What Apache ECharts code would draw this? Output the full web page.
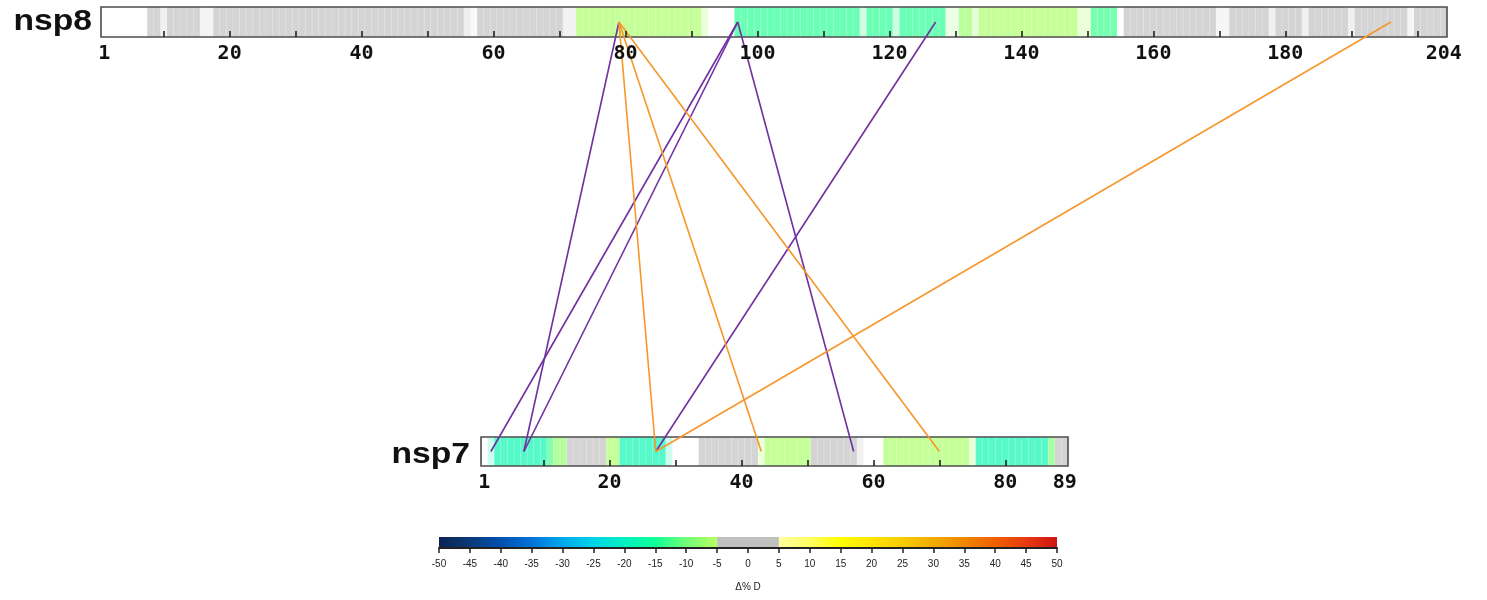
<!DOCTYPE html>
<html>
<head>
<meta charset="utf-8">
<title>nsp8 / nsp7 HDX map</title>
<script src="https://cdn.jsdelivr.net/npm/echarts@6/dist/echarts.min.js"></script>
<style>
  html, body { margin: 0; padding: 0; background: #fff; }
  #chart { width: 1487px; height: 600px; }
</style>
</head>
<body>
<div id="chart"></div>
<script>
// protein lengths (residues)
const NSP8_LENGTH = 204;
const NSP7_LENGTH = 89;

// covered stretches: [first residue, last residue, delta %D, coverage 0..1]
const NSP8_SEGMENTS = [
  [8, 9, 2, 1], [10, 10, 2, 0.35], [11, 15, 1, 1], [16, 17, 1, 0.25],
  [18, 55, 1, 1], [56, 56, 1, 0.4], [57, 57, 1, 0.15], [58, 70, 2, 1],
  [71, 72, 1, 0.3],
  [73, 91, -6, 1], [92, 92, -6, 0.35],
  [97, 115, -14, 1], [116, 116, -13, 0.35], [117, 120, -14, 1],
  [121, 121, -13, 0.35], [122, 128, -14, 1], [129, 130, -8, 0.25],
  [131, 132, -7, 1], [133, 133, -7, 0.4], [134, 148, -6, 1],
  [149, 150, -6, 0.35], [151, 154, -13, 1],
  [156, 169, 1, 1], [170, 171, 1, 0.2], [172, 177, 1, 1], [178, 178, 1, 0.35],
  [179, 182, 1, 1], [183, 183, 1, 0.35], [184, 189, 1, 1], [190, 190, 1, 0.35],
  [191, 198, 1, 1], [199, 199, 1, 0.2], [200, 204, 1, 1],
];
const NSP7_SEGMENTS = [
  [2, 2, -18, 0.3], [3, 10, -18, 1], [11, 11, -12, 1], [12, 13, -8, 1],
  [14, 19, 1, 1], [20, 21, -6, 1], [22, 28, -18, 1], [29, 29, -18, 0.3],
  [34, 42, 1, 1], [43, 43, -6, 0.35], [44, 50, -6, 1], [51, 57, 1, 1],
  [58, 58, 1, 0.3], [62, 74, -6, 1], [75, 75, -6, 0.35], [76, 86, -18, 1],
  [87, 87, -9, 1], [88, 89, 1, 1],
];

// axis ticks and labels
const NSP8_TICKS = [10, 20, 30, 40, 50, 60, 70, 80, 90, 100, 110, 120, 130, 140, 150, 160, 170, 180, 190, 200];
const NSP8_LABELS = [1, 20, 40, 60, 80, 100, 120, 140, 160, 180, 204];
const NSP7_TICKS = [10, 20, 30, 40, 50, 60, 70, 80];
const NSP7_LABELS = [1, 20, 40, 60, 80, 89];

// cross-links: [nsp8 residue, nsp7 residue]
const PURPLE_LINKS = [[79, 7], [97, 2], [97, 7], [97, 57], [127, 27]];
const ORANGE_LINKS = [[79, 27], [79, 43], [79, 70], [196, 27]];

// colour scale, evenly spaced: -50 .. -5 and 5 .. 50
const DECREASE_COLORS = ['#0b2352', '#0a3a78', '#0050b0', '#0074d8', '#00a8ee', '#00d4e8', '#00f0c0', '#10ff98', '#70ff78', '#b8ff60'];
const INCREASE_COLORS = ['#ffffa0', '#ffff60', '#ffff00', '#ffe400', '#f8cc00', '#f0ac00', '#f08600', '#f06000', '#e63a10', '#d01414'];
const NO_CHANGE_COLOR = '#c0c0c0';
const SCALE_BANDS = [[-50, -5, 'decrease'], [-5, 5, 'none'], [5, 50, 'increase']];

const CELL_OPACITY = 0.68;
const PURPLE = '#7030a0';
const ORANGE = '#f7962a';

function toResidues(segments) {
  const out = [];
  segments.forEach(([a, b, d, cov]) => {
    for (let r = a; r <= b; r++) out.push([r, d, cov]);
  });
  return out;
}

function colorFor(d) {
  if (d > -5 && d < 5) return NO_CHANGE_COLOR;
  if (d <= -5) return echarts.color.lerp((Math.max(d, -50) + 50) / 45, DECREASE_COLORS);
  return echarts.color.lerp((Math.min(d, 50) - 5) / 45, INCREASE_COLORS);
}

function gradient(colors) {
  return new echarts.graphic.LinearGradient(0, 0, 1, 0,
    colors.map((c, i) => ({ offset: i / (colors.length - 1), color: c })));
}

function renderCell(params, api) {
  const r = api.value(0);
  const p0 = api.coord([r - 0.5, 1]);
  const p1 = api.coord([r + 0.5, 0]);
  return {
    type: 'rect',
    shape: { x: p0[0], y: p0[1], width: p1[0] - p0[0], height: p1[1] - p0[1] },
    style: {
      fill: colorFor(api.value(1)),
      opacity: CELL_OPACITY * api.value(2),
      stroke: 'rgba(255,255,255,0.25)',
      lineWidth: 0.8,
    },
  };
}

function frameRenderer(len) {
  return function (params, api) {
    const p0 = api.coord([0.5, 1]);
    const p1 = api.coord([len + 0.5, 0]);
    return {
      type: 'rect',
      shape: { x: p0[0], y: p0[1], width: p1[0] - p0[0], height: p1[1] - p0[1] },
      style: { fill: 'none', stroke: '#4d4d4d', lineWidth: 1.6 },
    };
  };
}

function renderLink(params, api) {
  const a = chart.convertToPixel({ gridIndex: 0 }, [api.value(0), 0.5]);
  const b = chart.convertToPixel({ gridIndex: 1 }, [api.value(1), 0.5]);
  return {
    type: 'line',
    shape: { x1: a[0], y1: a[1], x2: b[0], y2: b[1] },
    style: { stroke: api.visual('color'), lineWidth: 1.6 },
  };
}

function renderBand(params, api) {
  const p0 = api.coord([api.value(0), 1]);
  const p1 = api.coord([api.value(1), 0]);
  const kind = SCALE_BANDS[params.dataIndex][2];
  const fill = kind === 'decrease' ? gradient(DECREASE_COLORS)
    : kind === 'increase' ? gradient(INCREASE_COLORS) : NO_CHANGE_COLOR;
  return {
    type: 'rect',
    shape: { x: p0[0], y: p0[1], width: p1[0] - p0[0], height: p1[1] - p0[1] },
    style: { fill: fill },
  };
}

const residueAxis = (grid, len, ticks, labels, margin) => ({
  type: 'value',
  gridIndex: grid,
  min: 0.5,
  max: len + 0.5,
  z: 10,
  axisLine: { show: false },
  splitLine: { show: false },
  axisTick: { inside: true, length: 6, customValues: ticks, lineStyle: { color: '#222', width: 1.6 } },
  axisLabel: {
    customValues: labels,
    margin: margin,
    fontFamily: 'DejaVu Sans Mono',
    fontWeight: 'bold',
    fontSize: 20,
    color: '#111',
  },
});

const hiddenY = (grid) => ({ type: 'value', gridIndex: grid, min: 0, max: 1, show: false });

const chart = echarts.init(document.getElementById('chart'), null, { renderer: 'canvas' });

chart.setOption({
  animation: false,
  backgroundColor: '#fff',
  grid: [
    { left: 101, top: 7, width: 1346, height: 30 },
    { left: 481, top: 437, width: 587, height: 29 },
    { left: 439, top: 537, width: 618, height: 11 },
  ],
  xAxis: [
    residueAxis(0, NSP8_LENGTH, NSP8_TICKS, NSP8_LABELS, 7),
    residueAxis(1, NSP7_LENGTH, NSP7_TICKS, NSP7_LABELS, 7),
    {
      type: 'value',
      gridIndex: 2,
      min: -50,
      max: 50,
      interval: 5,
      z: 10,
      splitLine: { show: false },
      axisLine: { lineStyle: { color: '#222', width: 2 } },
      axisTick: { length: 5, lineStyle: { color: '#222', width: 1.5 } },
      axisLabel: { margin: 11, fontSize: 10, color: '#222', fontFamily: 'Liberation Sans' },
      name: 'Δ% D',
      nameLocation: 'middle',
      nameGap: 34,
      nameTextStyle: { fontSize: 10, color: '#222', fontFamily: 'Liberation Sans' },
    },
  ],
  yAxis: [hiddenY(0), hiddenY(1), hiddenY(2)],
  graphic: [
    {
      type: 'text', x: 92, y: 22,
      style: { text: 'nsp8', font: 'bold 30px "Liberation Sans"', fill: '#111', align: 'right', verticalAlign: 'middle' },
      scaleX: 1.12,
    },
    {
      type: 'text', x: 470, y: 455,
      style: { text: 'nsp7', font: 'bold 30px "Liberation Sans"', fill: '#111', align: 'right', verticalAlign: 'middle' },
      scaleX: 1.12,
    },
  ],
  series: [
    { type: 'custom', xAxisIndex: 0, yAxisIndex: 0, data: toResidues(NSP8_SEGMENTS), renderItem: renderCell, z: 2 },
    { type: 'custom', xAxisIndex: 0, yAxisIndex: 0, data: [[0]], renderItem: frameRenderer(NSP8_LENGTH), z: 3 },
    { type: 'custom', xAxisIndex: 1, yAxisIndex: 1, data: toResidues(NSP7_SEGMENTS), renderItem: renderCell, z: 2 },
    { type: 'custom', xAxisIndex: 1, yAxisIndex: 1, data: [[0]], renderItem: frameRenderer(NSP7_LENGTH), z: 3 },
    { type: 'custom', xAxisIndex: 2, yAxisIndex: 2, data: SCALE_BANDS.map(b => [b[0], b[1]]), renderItem: renderBand, z: 2 },
    { type: 'custom', coordinateSystem: 'none', name: 'purple', itemStyle: { color: PURPLE }, data: PURPLE_LINKS, renderItem: renderLink, z: 5 },
    { type: 'custom', coordinateSystem: 'none', name: 'orange', itemStyle: { color: ORANGE }, data: ORANGE_LINKS, renderItem: renderLink, z: 5 },
  ],
});
</script>
</body>
</html>
